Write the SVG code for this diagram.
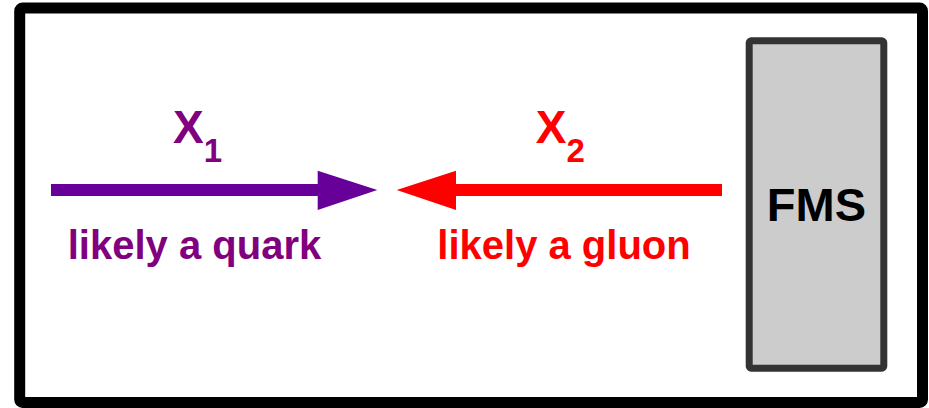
<svg xmlns="http://www.w3.org/2000/svg" width="929" height="408" viewBox="0 0 929 408">
<style>
text { font-family: "Liberation Sans", Arial, sans-serif; font-weight: bold; }
.purple { fill: #800080; }
.red { fill: #ff0000; }
</style>
<rect x="0" y="0" width="929" height="408" fill="#ffffff"/>
<g id="frame">
<rect x="19.7" y="8" width="902.8" height="394.5" rx="3" fill="#ffffff" stroke="#000000" stroke-width="11"/>
</g>
<g id="fms">
<rect x="749.2" y="40.8" width="134.6" height="327.4" rx="2" fill="#cccccc" stroke="#333333" stroke-width="7"/>
<text x="816.4" y="221" font-size="47" text-anchor="middle" fill="#000000">FMS</text>
</g>
<g id="connectors">
<g id="x1-arrow">
<rect x="51" y="184" width="268" height="12" fill="#660099"/>
<polygon points="317.7,170.7 377.3,190 317.7,210" fill="#660099"/>
</g>
<g id="x2-arrow">
<rect x="455" y="184" width="267" height="12" fill="#ff0000"/>
<polygon points="456,170.7 396.7,190 456,210" fill="#ff0000"/>
</g>
</g>
<g id="x1-label">
<text class="purple" x="173" y="142.7" font-size="46">X<tspan font-size="33" dy="19">1</tspan></text>
<text class="purple" x="194.5" y="259.3" font-size="40" text-anchor="middle">likely a quark</text>
</g>
<g id="x2-label">
<text class="red" x="535.7" y="142.7" font-size="46">X<tspan font-size="33" dy="19">2</tspan></text>
<text class="red" x="564" y="259.3" font-size="40" text-anchor="middle">likely a gluon</text>
</g>
</svg>
